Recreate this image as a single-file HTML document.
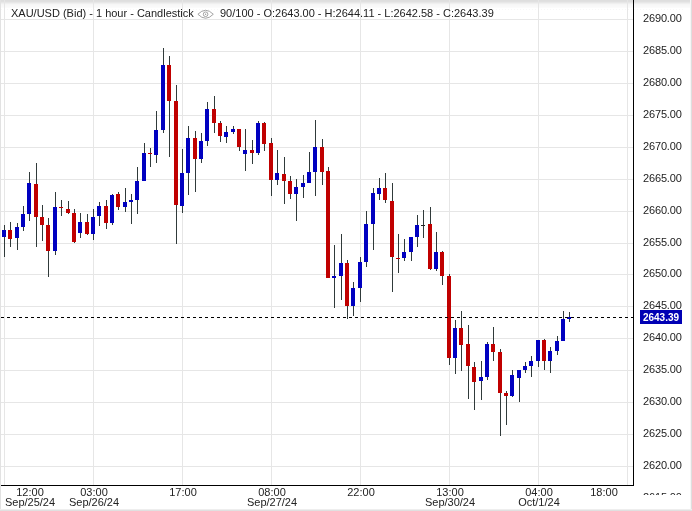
<!DOCTYPE html>
<html><head><meta charset="utf-8"><title>XAU/USD</title>
<style>
html,body{margin:0;padding:0;background:#fff;}
body{width:692px;height:511px;position:relative;overflow:hidden;font-family:"Liberation Sans",sans-serif;font-size:11px;color:#222;}
#topg{position:absolute;left:0;top:0;width:692px;height:8px;background:linear-gradient(#dedede 0px,#dedede 1px,#e0e0e0 1px,#e0e0e0 2px,#e7e7e7 2px,#e7e7e7 3px,#efefef 3px,#efefef 4px,#f6f6f6 4px,#f6f6f6 5px,#f8f8f8 5px,#f8f8f8 6px,#f9f9f9 6px,#f9f9f9 7px,#fbfbfb 7px,#fbfbfb 8px);}
#dots{position:absolute;left:1px;top:9px;width:683px;height:1px;background:repeating-linear-gradient(90deg,#f8f8f8 0,#f8f8f8 1px,#fff 1px,#fff 3px);}
#lb{position:absolute;left:0;top:0;width:1px;height:511px;background:#e2e2e2;}
#rb{position:absolute;left:690px;top:0;width:2px;height:511px;background:linear-gradient(90deg,#f6f6f6 0,#f6f6f6 1px,#dedede 1px,#dedede 2px);}
#bb{position:absolute;left:0;top:509px;width:692px;height:2px;background:linear-gradient(#eeeeee 0,#eeeeee 1px,#e0e0e0 1px,#e0e0e0 2px);}
svg{position:absolute;left:0;top:0;}
.pl,.xl,#title,#title2,#cur{will-change:transform;}
.pl{position:absolute;left:643px;width:40px;height:14px;line-height:14px;white-space:nowrap;}
.xl{position:absolute;width:80px;text-align:center;height:12px;line-height:12px;white-space:nowrap;}
#yax{position:absolute;left:634px;top:0;width:56px;height:495px;overflow:hidden;}
#yax .pl{left:9px;letter-spacing:-0.15px;}
#title{position:absolute;left:10.5px;top:6px;height:14px;line-height:14px;white-space:nowrap;}
#title2{position:absolute;left:219.5px;top:6px;height:14px;line-height:14px;white-space:nowrap;}
#cur{position:absolute;left:640px;top:312px;width:42px;height:12px;line-height:12px;text-align:center;color:#fff;font-weight:bold;font-size:10px;}
</style></head><body>
<div id="topg"></div><div id="dots"></div>
<svg width="692" height="511" viewBox="0 0 692 511" shape-rendering="crispEdges">
<rect x="0" y="19" width="633" height="1" fill="#e6e6e6"/>
<rect x="0" y="51" width="633" height="1" fill="#e6e6e6"/>
<rect x="0" y="83" width="633" height="1" fill="#e6e6e6"/>
<rect x="0" y="115" width="633" height="1" fill="#e6e6e6"/>
<rect x="0" y="147" width="633" height="1" fill="#e6e6e6"/>
<rect x="0" y="179" width="633" height="1" fill="#e6e6e6"/>
<rect x="0" y="211" width="633" height="1" fill="#e6e6e6"/>
<rect x="0" y="243" width="633" height="1" fill="#e6e6e6"/>
<rect x="0" y="274" width="633" height="1" fill="#e6e6e6"/>
<rect x="0" y="306" width="633" height="1" fill="#e6e6e6"/>
<rect x="0" y="338" width="633" height="1" fill="#e6e6e6"/>
<rect x="0" y="370" width="633" height="1" fill="#e6e6e6"/>
<rect x="0" y="402" width="633" height="1" fill="#e6e6e6"/>
<rect x="0" y="434" width="633" height="1" fill="#e6e6e6"/>
<rect x="0" y="466" width="633" height="1" fill="#e6e6e6"/>
<rect x="4" y="0" width="1" height="485" fill="#e6e6e6"/>
<rect x="93" y="0" width="1" height="485" fill="#e6e6e6"/>
<rect x="182" y="0" width="1" height="485" fill="#e6e6e6"/>
<rect x="271" y="0" width="1" height="485" fill="#e6e6e6"/>
<rect x="360" y="0" width="1" height="485" fill="#e6e6e6"/>
<rect x="449" y="0" width="1" height="485" fill="#e6e6e6"/>
<rect x="538" y="0" width="1" height="485" fill="#e6e6e6"/>
<rect x="627" y="0" width="1" height="485" fill="#e6e6e6"/>
<rect x="4" y="225" width="1" height="32" fill="#303a3a"/>
<rect x="2" y="230" width="4" height="7" fill="#0000c0"/>
<rect x="10" y="222" width="1" height="25" fill="#303a3a"/>
<rect x="8" y="230" width="4" height="9" fill="#c00000"/>
<rect x="17" y="223" width="1" height="27" fill="#303a3a"/>
<rect x="15" y="227" width="4" height="11" fill="#0000c0"/>
<rect x="23" y="206" width="1" height="25" fill="#303a3a"/>
<rect x="21" y="214" width="4" height="13" fill="#0000c0"/>
<rect x="29" y="172" width="1" height="49" fill="#303a3a"/>
<rect x="27" y="183" width="4" height="31" fill="#0000c0"/>
<rect x="36" y="163" width="1" height="84" fill="#303a3a"/>
<rect x="34" y="184" width="4" height="33" fill="#c00000"/>
<rect x="42" y="205" width="1" height="36" fill="#303a3a"/>
<rect x="40" y="217" width="4" height="8" fill="#c00000"/>
<rect x="48" y="218" width="1" height="59" fill="#303a3a"/>
<rect x="46" y="225" width="4" height="26" fill="#c00000"/>
<rect x="55" y="192" width="1" height="63" fill="#303a3a"/>
<rect x="53" y="207" width="4" height="44" fill="#0000c0"/>
<rect x="61" y="200" width="1" height="16" fill="#303a3a"/>
<rect x="59" y="207" width="4" height="1" fill="#c00000"/>
<rect x="68" y="201" width="1" height="13" fill="#303a3a"/>
<rect x="66" y="209" width="4" height="4" fill="#c00000"/>
<rect x="74" y="209" width="1" height="34" fill="#303a3a"/>
<rect x="72" y="213" width="4" height="29" fill="#c00000"/>
<rect x="80" y="213" width="1" height="25" fill="#303a3a"/>
<rect x="78" y="222" width="4" height="11" fill="#0000c0"/>
<rect x="87" y="214" width="1" height="21" fill="#303a3a"/>
<rect x="85" y="222" width="4" height="12" fill="#c00000"/>
<rect x="93" y="209" width="1" height="31" fill="#303a3a"/>
<rect x="91" y="217" width="4" height="17" fill="#0000c0"/>
<rect x="99" y="202" width="1" height="24" fill="#303a3a"/>
<rect x="97" y="206" width="4" height="10" fill="#0000c0"/>
<rect x="106" y="200" width="1" height="29" fill="#303a3a"/>
<rect x="104" y="206" width="4" height="17" fill="#c00000"/>
<rect x="112" y="194" width="1" height="31" fill="#303a3a"/>
<rect x="110" y="195" width="4" height="28" fill="#0000c0"/>
<rect x="118" y="192" width="1" height="18" fill="#303a3a"/>
<rect x="116" y="194" width="4" height="13" fill="#c00000"/>
<rect x="125" y="188" width="1" height="24" fill="#303a3a"/>
<rect x="123" y="202" width="4" height="5" fill="#0000c0"/>
<rect x="131" y="194" width="1" height="30" fill="#303a3a"/>
<rect x="129" y="200" width="4" height="2" fill="#0000c0"/>
<rect x="137" y="167" width="1" height="47" fill="#303a3a"/>
<rect x="135" y="181" width="4" height="19" fill="#0000c0"/>
<rect x="144" y="143" width="1" height="38" fill="#303a3a"/>
<rect x="142" y="153" width="4" height="28" fill="#0000c0"/>
<rect x="150" y="148" width="1" height="19" fill="#303a3a"/>
<rect x="148" y="153" width="4" height="1" fill="#c00000"/>
<rect x="156" y="111" width="1" height="52" fill="#303a3a"/>
<rect x="154" y="130" width="4" height="25" fill="#0000c0"/>
<rect x="163" y="48" width="1" height="85" fill="#303a3a"/>
<rect x="161" y="65" width="4" height="65" fill="#0000c0"/>
<rect x="169" y="56" width="1" height="101" fill="#303a3a"/>
<rect x="167" y="65" width="4" height="36" fill="#c00000"/>
<rect x="176" y="85" width="1" height="159" fill="#303a3a"/>
<rect x="174" y="101" width="4" height="104" fill="#c00000"/>
<rect x="182" y="149" width="1" height="64" fill="#303a3a"/>
<rect x="180" y="173" width="4" height="33" fill="#0000c0"/>
<rect x="188" y="126" width="1" height="69" fill="#303a3a"/>
<rect x="186" y="138" width="4" height="35" fill="#0000c0"/>
<rect x="195" y="131" width="1" height="61" fill="#303a3a"/>
<rect x="193" y="138" width="4" height="21" fill="#c00000"/>
<rect x="201" y="133" width="1" height="30" fill="#303a3a"/>
<rect x="199" y="141" width="4" height="18" fill="#0000c0"/>
<rect x="207" y="102" width="1" height="44" fill="#303a3a"/>
<rect x="205" y="109" width="4" height="32" fill="#0000c0"/>
<rect x="214" y="96" width="1" height="37" fill="#303a3a"/>
<rect x="212" y="109" width="4" height="14" fill="#c00000"/>
<rect x="220" y="121" width="1" height="21" fill="#303a3a"/>
<rect x="218" y="123" width="4" height="13" fill="#c00000"/>
<rect x="226" y="126" width="1" height="17" fill="#303a3a"/>
<rect x="224" y="132" width="4" height="5" fill="#0000c0"/>
<rect x="233" y="126" width="1" height="8" fill="#303a3a"/>
<rect x="231" y="129" width="4" height="3" fill="#0000c0"/>
<rect x="239" y="129" width="1" height="22" fill="#303a3a"/>
<rect x="237" y="129" width="4" height="18" fill="#c00000"/>
<rect x="245" y="129" width="1" height="42" fill="#303a3a"/>
<rect x="243" y="150" width="4" height="4" fill="#0000c0"/>
<rect x="252" y="140" width="1" height="24" fill="#303a3a"/>
<rect x="250" y="150" width="4" height="3" fill="#c00000"/>
<rect x="258" y="121" width="1" height="34" fill="#303a3a"/>
<rect x="256" y="123" width="4" height="30" fill="#0000c0"/>
<rect x="264" y="122" width="1" height="29" fill="#303a3a"/>
<rect x="262" y="123" width="4" height="21" fill="#c00000"/>
<rect x="271" y="138" width="1" height="58" fill="#303a3a"/>
<rect x="269" y="143" width="4" height="37" fill="#c00000"/>
<rect x="277" y="150" width="1" height="35" fill="#303a3a"/>
<rect x="275" y="173" width="4" height="7" fill="#0000c0"/>
<rect x="284" y="157" width="1" height="47" fill="#303a3a"/>
<rect x="282" y="174" width="4" height="7" fill="#c00000"/>
<rect x="290" y="176" width="1" height="23" fill="#303a3a"/>
<rect x="288" y="181" width="4" height="13" fill="#c00000"/>
<rect x="296" y="179" width="1" height="42" fill="#303a3a"/>
<rect x="294" y="187" width="4" height="7" fill="#0000c0"/>
<rect x="303" y="175" width="1" height="23" fill="#303a3a"/>
<rect x="301" y="183" width="4" height="4" fill="#0000c0"/>
<rect x="309" y="152" width="1" height="31" fill="#303a3a"/>
<rect x="307" y="172" width="4" height="11" fill="#0000c0"/>
<rect x="315" y="120" width="1" height="76" fill="#303a3a"/>
<rect x="313" y="147" width="4" height="25" fill="#0000c0"/>
<rect x="322" y="139" width="1" height="46" fill="#303a3a"/>
<rect x="320" y="147" width="4" height="25" fill="#c00000"/>
<rect x="328" y="167" width="1" height="111" fill="#303a3a"/>
<rect x="326" y="171" width="4" height="107" fill="#c00000"/>
<rect x="334" y="245" width="1" height="63" fill="#303a3a"/>
<rect x="332" y="276" width="4" height="2" fill="#0000c0"/>
<rect x="341" y="234" width="1" height="66" fill="#303a3a"/>
<rect x="339" y="263" width="4" height="13" fill="#0000c0"/>
<rect x="347" y="260" width="1" height="59" fill="#303a3a"/>
<rect x="345" y="263" width="4" height="43" fill="#c00000"/>
<rect x="353" y="282" width="1" height="34" fill="#303a3a"/>
<rect x="351" y="288" width="4" height="18" fill="#0000c0"/>
<rect x="360" y="257" width="1" height="45" fill="#303a3a"/>
<rect x="358" y="262" width="4" height="26" fill="#0000c0"/>
<rect x="366" y="211" width="1" height="56" fill="#303a3a"/>
<rect x="364" y="224" width="4" height="38" fill="#0000c0"/>
<rect x="373" y="188" width="1" height="62" fill="#303a3a"/>
<rect x="371" y="193" width="4" height="31" fill="#0000c0"/>
<rect x="379" y="178" width="1" height="22" fill="#303a3a"/>
<rect x="377" y="188" width="4" height="6" fill="#0000c0"/>
<rect x="385" y="173" width="1" height="30" fill="#303a3a"/>
<rect x="383" y="188" width="4" height="12" fill="#c00000"/>
<rect x="392" y="183" width="1" height="109" fill="#303a3a"/>
<rect x="390" y="201" width="4" height="56" fill="#c00000"/>
<rect x="398" y="234" width="1" height="39" fill="#303a3a"/>
<rect x="396" y="258" width="4" height="1" fill="#c00000"/>
<rect x="404" y="239" width="1" height="22" fill="#303a3a"/>
<rect x="402" y="252" width="4" height="6" fill="#0000c0"/>
<rect x="411" y="237" width="1" height="24" fill="#303a3a"/>
<rect x="409" y="237" width="4" height="15" fill="#0000c0"/>
<rect x="417" y="215" width="1" height="32" fill="#303a3a"/>
<rect x="415" y="225" width="4" height="12" fill="#0000c0"/>
<rect x="423" y="210" width="1" height="28" fill="#303a3a"/>
<rect x="421" y="225" width="4" height="1" fill="#222"/>
<rect x="430" y="207" width="1" height="63" fill="#303a3a"/>
<rect x="428" y="224" width="4" height="45" fill="#c00000"/>
<rect x="436" y="232" width="1" height="39" fill="#303a3a"/>
<rect x="434" y="252" width="4" height="17" fill="#0000c0"/>
<rect x="442" y="251" width="1" height="34" fill="#303a3a"/>
<rect x="440" y="252" width="4" height="24" fill="#c00000"/>
<rect x="449" y="274" width="1" height="91" fill="#303a3a"/>
<rect x="447" y="276" width="4" height="82" fill="#c00000"/>
<rect x="455" y="320" width="1" height="54" fill="#303a3a"/>
<rect x="453" y="328" width="4" height="30" fill="#0000c0"/>
<rect x="461" y="311" width="1" height="60" fill="#303a3a"/>
<rect x="459" y="328" width="4" height="17" fill="#c00000"/>
<rect x="468" y="325" width="1" height="74" fill="#303a3a"/>
<rect x="466" y="344" width="4" height="22" fill="#c00000"/>
<rect x="474" y="362" width="1" height="48" fill="#303a3a"/>
<rect x="472" y="367" width="4" height="15" fill="#c00000"/>
<rect x="481" y="361" width="1" height="39" fill="#303a3a"/>
<rect x="479" y="377" width="4" height="4" fill="#0000c0"/>
<rect x="487" y="342" width="1" height="38" fill="#303a3a"/>
<rect x="485" y="344" width="4" height="33" fill="#0000c0"/>
<rect x="493" y="327" width="1" height="34" fill="#303a3a"/>
<rect x="491" y="344" width="4" height="8" fill="#c00000"/>
<rect x="500" y="349" width="1" height="87" fill="#303a3a"/>
<rect x="498" y="352" width="4" height="41" fill="#c00000"/>
<rect x="506" y="391" width="1" height="34" fill="#303a3a"/>
<rect x="504" y="393" width="4" height="3" fill="#c00000"/>
<rect x="512" y="370" width="1" height="27" fill="#303a3a"/>
<rect x="510" y="375" width="4" height="21" fill="#0000c0"/>
<rect x="519" y="370" width="1" height="32" fill="#303a3a"/>
<rect x="517" y="370" width="4" height="8" fill="#0000c0"/>
<rect x="525" y="362" width="1" height="11" fill="#303a3a"/>
<rect x="523" y="366" width="4" height="4" fill="#0000c0"/>
<rect x="531" y="356" width="1" height="21" fill="#303a3a"/>
<rect x="529" y="361" width="4" height="5" fill="#0000c0"/>
<rect x="538" y="340" width="1" height="27" fill="#303a3a"/>
<rect x="536" y="340" width="4" height="21" fill="#0000c0"/>
<rect x="544" y="339" width="1" height="31" fill="#303a3a"/>
<rect x="542" y="340" width="4" height="21" fill="#c00000"/>
<rect x="550" y="347" width="1" height="26" fill="#303a3a"/>
<rect x="548" y="351" width="4" height="10" fill="#0000c0"/>
<rect x="557" y="336" width="1" height="19" fill="#303a3a"/>
<rect x="555" y="341" width="4" height="10" fill="#0000c0"/>
<rect x="563" y="311" width="1" height="30" fill="#303a3a"/>
<rect x="561" y="319" width="4" height="22" fill="#0000c0"/>
<rect x="569" y="312" width="1" height="10" fill="#303a3a"/>
<rect x="567" y="317" width="4" height="2" fill="#0000c0"/>
<rect x="1" y="317" width="3" height="1" fill="#000"/>
<rect x="7" y="317" width="3" height="1" fill="#000"/>
<rect x="13" y="317" width="3" height="1" fill="#000"/>
<rect x="19" y="317" width="3" height="1" fill="#000"/>
<rect x="25" y="317" width="3" height="1" fill="#000"/>
<rect x="31" y="317" width="3" height="1" fill="#000"/>
<rect x="37" y="317" width="3" height="1" fill="#000"/>
<rect x="43" y="317" width="3" height="1" fill="#000"/>
<rect x="49" y="317" width="3" height="1" fill="#000"/>
<rect x="55" y="317" width="3" height="1" fill="#000"/>
<rect x="61" y="317" width="3" height="1" fill="#000"/>
<rect x="67" y="317" width="3" height="1" fill="#000"/>
<rect x="73" y="317" width="3" height="1" fill="#000"/>
<rect x="79" y="317" width="3" height="1" fill="#000"/>
<rect x="85" y="317" width="3" height="1" fill="#000"/>
<rect x="91" y="317" width="3" height="1" fill="#000"/>
<rect x="97" y="317" width="3" height="1" fill="#000"/>
<rect x="103" y="317" width="3" height="1" fill="#000"/>
<rect x="109" y="317" width="3" height="1" fill="#000"/>
<rect x="115" y="317" width="3" height="1" fill="#000"/>
<rect x="121" y="317" width="3" height="1" fill="#000"/>
<rect x="127" y="317" width="3" height="1" fill="#000"/>
<rect x="133" y="317" width="3" height="1" fill="#000"/>
<rect x="139" y="317" width="3" height="1" fill="#000"/>
<rect x="145" y="317" width="3" height="1" fill="#000"/>
<rect x="151" y="317" width="3" height="1" fill="#000"/>
<rect x="157" y="317" width="3" height="1" fill="#000"/>
<rect x="163" y="317" width="3" height="1" fill="#000"/>
<rect x="169" y="317" width="3" height="1" fill="#000"/>
<rect x="175" y="317" width="3" height="1" fill="#000"/>
<rect x="181" y="317" width="3" height="1" fill="#000"/>
<rect x="187" y="317" width="3" height="1" fill="#000"/>
<rect x="193" y="317" width="3" height="1" fill="#000"/>
<rect x="199" y="317" width="3" height="1" fill="#000"/>
<rect x="205" y="317" width="3" height="1" fill="#000"/>
<rect x="211" y="317" width="3" height="1" fill="#000"/>
<rect x="217" y="317" width="3" height="1" fill="#000"/>
<rect x="223" y="317" width="3" height="1" fill="#000"/>
<rect x="229" y="317" width="3" height="1" fill="#000"/>
<rect x="235" y="317" width="3" height="1" fill="#000"/>
<rect x="241" y="317" width="3" height="1" fill="#000"/>
<rect x="247" y="317" width="3" height="1" fill="#000"/>
<rect x="253" y="317" width="3" height="1" fill="#000"/>
<rect x="259" y="317" width="3" height="1" fill="#000"/>
<rect x="265" y="317" width="3" height="1" fill="#000"/>
<rect x="271" y="317" width="3" height="1" fill="#000"/>
<rect x="277" y="317" width="3" height="1" fill="#000"/>
<rect x="283" y="317" width="3" height="1" fill="#000"/>
<rect x="289" y="317" width="3" height="1" fill="#000"/>
<rect x="295" y="317" width="3" height="1" fill="#000"/>
<rect x="301" y="317" width="3" height="1" fill="#000"/>
<rect x="307" y="317" width="3" height="1" fill="#000"/>
<rect x="313" y="317" width="3" height="1" fill="#000"/>
<rect x="319" y="317" width="3" height="1" fill="#000"/>
<rect x="325" y="317" width="3" height="1" fill="#000"/>
<rect x="331" y="317" width="3" height="1" fill="#000"/>
<rect x="337" y="317" width="3" height="1" fill="#000"/>
<rect x="343" y="317" width="3" height="1" fill="#000"/>
<rect x="349" y="317" width="3" height="1" fill="#000"/>
<rect x="355" y="317" width="3" height="1" fill="#000"/>
<rect x="361" y="317" width="3" height="1" fill="#000"/>
<rect x="367" y="317" width="3" height="1" fill="#000"/>
<rect x="373" y="317" width="3" height="1" fill="#000"/>
<rect x="379" y="317" width="3" height="1" fill="#000"/>
<rect x="385" y="317" width="3" height="1" fill="#000"/>
<rect x="391" y="317" width="3" height="1" fill="#000"/>
<rect x="397" y="317" width="3" height="1" fill="#000"/>
<rect x="403" y="317" width="3" height="1" fill="#000"/>
<rect x="409" y="317" width="3" height="1" fill="#000"/>
<rect x="415" y="317" width="3" height="1" fill="#000"/>
<rect x="421" y="317" width="3" height="1" fill="#000"/>
<rect x="427" y="317" width="3" height="1" fill="#000"/>
<rect x="433" y="317" width="3" height="1" fill="#000"/>
<rect x="439" y="317" width="3" height="1" fill="#000"/>
<rect x="445" y="317" width="3" height="1" fill="#000"/>
<rect x="451" y="317" width="3" height="1" fill="#000"/>
<rect x="457" y="317" width="3" height="1" fill="#000"/>
<rect x="463" y="317" width="3" height="1" fill="#000"/>
<rect x="469" y="317" width="3" height="1" fill="#000"/>
<rect x="475" y="317" width="3" height="1" fill="#000"/>
<rect x="481" y="317" width="3" height="1" fill="#000"/>
<rect x="487" y="317" width="3" height="1" fill="#000"/>
<rect x="493" y="317" width="3" height="1" fill="#000"/>
<rect x="499" y="317" width="3" height="1" fill="#000"/>
<rect x="505" y="317" width="3" height="1" fill="#000"/>
<rect x="511" y="317" width="3" height="1" fill="#000"/>
<rect x="517" y="317" width="3" height="1" fill="#000"/>
<rect x="523" y="317" width="3" height="1" fill="#000"/>
<rect x="529" y="317" width="3" height="1" fill="#000"/>
<rect x="535" y="317" width="3" height="1" fill="#000"/>
<rect x="541" y="317" width="3" height="1" fill="#000"/>
<rect x="547" y="317" width="3" height="1" fill="#000"/>
<rect x="553" y="317" width="3" height="1" fill="#000"/>
<rect x="559" y="317" width="3" height="1" fill="#000"/>
<rect x="565" y="317" width="3" height="1" fill="#000"/>
<rect x="571" y="317" width="3" height="1" fill="#000"/>
<rect x="577" y="317" width="3" height="1" fill="#000"/>
<rect x="583" y="317" width="3" height="1" fill="#000"/>
<rect x="589" y="317" width="3" height="1" fill="#000"/>
<rect x="595" y="317" width="3" height="1" fill="#000"/>
<rect x="601" y="317" width="3" height="1" fill="#000"/>
<rect x="607" y="317" width="3" height="1" fill="#000"/>
<rect x="613" y="317" width="3" height="1" fill="#000"/>
<rect x="619" y="317" width="3" height="1" fill="#000"/>
<rect x="625" y="317" width="3" height="1" fill="#000"/>
<rect x="631" y="317" width="2" height="1" fill="#000"/>
<rect x="633" y="0" width="1" height="486" fill="#000"/>
<rect x="0" y="485" width="634" height="1" fill="#000"/>
<rect x="640" y="310" width="42" height="14" fill="#0000b4"/>
</svg>
<svg width="24" height="16" viewBox="0 0 24 16" style="left:194px;top:6px" fill="none" stroke="#9a9a9a" stroke-width="0.9">
<path d="M3.9 8.25 Q11.6 0.3 19.3 8.25 Q11.6 16.2 3.9 8.25 Z"/><circle cx="11.6" cy="8.25" r="2.3"/><circle cx="11.6" cy="8.25" r="0.7" fill="#9a9a9a" stroke="none"/>
</svg>
<div id="title">XAU/USD (Bid) - 1 hour - Candlestick</div>
<div id="title2">90/100 - O:2643.00 - H:2644.11 - L:2642.58 - C:2643.39</div>
<div id="yax">
<div class="pl" style="top:11px">2690.00</div>
<div class="pl" style="top:43px">2685.00</div>
<div class="pl" style="top:75px">2680.00</div>
<div class="pl" style="top:107px">2675.00</div>
<div class="pl" style="top:139px">2670.00</div>
<div class="pl" style="top:171px">2665.00</div>
<div class="pl" style="top:203px">2660.00</div>
<div class="pl" style="top:235px">2655.00</div>
<div class="pl" style="top:266px">2650.00</div>
<div class="pl" style="top:298px">2645.00</div>
<div class="pl" style="top:330px">2640.00</div>
<div class="pl" style="top:362px">2635.00</div>
<div class="pl" style="top:394px">2630.00</div>
<div class="pl" style="top:426px">2625.00</div>
<div class="pl" style="top:458px">2620.00</div>
<div class="pl" style="top:490px">2615.00</div>
</div>
<div class="xl" style="left:-10px;top:486px">12:00</div>
<div class="xl" style="left:-10px;top:496px">Sep/25/24</div>
<div class="xl" style="left:53.5px;top:486px">03:00</div>
<div class="xl" style="left:53.5px;top:496px">Sep/26/24</div>
<div class="xl" style="left:142.5px;top:486px">17:00</div>
<div class="xl" style="left:231.5px;top:486px">08:00</div>
<div class="xl" style="left:231.5px;top:496px">Sep/27/24</div>
<div class="xl" style="left:320.5px;top:486px">22:00</div>
<div class="xl" style="left:409.5px;top:486px">13:00</div>
<div class="xl" style="left:409.5px;top:496px">Sep/30/24</div>
<div class="xl" style="left:498.5px;top:486px">04:00</div>
<div class="xl" style="left:498.5px;top:496px">Oct/1/24</div>
<div class="xl" style="left:563.5px;top:486px">18:00</div>
<div id="cur">2643.39</div>
<div id="lb"></div><div id="rb"></div><div id="bb"></div>
</body></html>
